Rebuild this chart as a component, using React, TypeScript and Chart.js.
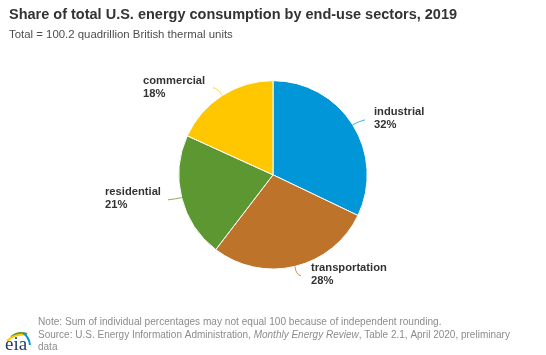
import React, { useEffect, useRef } from "react";
import { Chart, registerables } from "chart.js";

Chart.register(...registerables);

const titleText = "Share of total U.S. energy consumption by end-use sectors, 2019";
const subtitleText = "Total = 100.2 quadrillion British thermal units";
const categories = ["industrial", "transportation", "residential", "commercial"];
const shares = [32.1, 28.3, 21.4, 18.2];
const shareLabels = ["32%", "28%", "21%", "18%"];
const colors = ["#0096D7", "#BD732A", "#5D9732", "#FFC700"];
const noteLine = "Note: Sum of individual percentages may not equal 100 because of independent rounding.";
const sourceA = "Source: U.S. Energy Information Administration, ";
const sourceB = "Monthly Energy Review";
const sourceC = ", Table 2.1, April 2020, preliminary";
const sourceD = "data";

// label anchor relative to the pie centre, leader end relative to the pie centre
const labelOffsets = [[101, -60], [38, 96], [-168, 20], [-130, -91]];
const leaderEnds = [[92, -55], [28, 101], [-105, 25], [-60, -87]];
const leaderBend = [[85, -53], [23, 100], [-97, 24], [-55, -87]];

const FONT = '"Liberation Sans", Arial, sans-serif';

const annotations = {
  id: "annotations",
  afterDraw(chart: any) {
    const ctx = chart.ctx;
    const arcs = chart.getDatasetMeta(0).data;
    ctx.save();
    ctx.textBaseline = "alphabetic";
    arcs.forEach((arc: any, i: number) => {
      const mid = (arc.startAngle + arc.endAngle) / 2;
      const cx = arc.x, cy = arc.y, r = arc.outerRadius;
      ctx.strokeStyle = colors[i];
      ctx.globalAlpha = 0.75;
      ctx.lineWidth = 1;
      ctx.beginPath();
      ctx.moveTo(cx + Math.cos(mid) * r, cy + Math.sin(mid) * r);
      ctx.quadraticCurveTo(cx + leaderBend[i][0], cy + leaderBend[i][1], cx + leaderEnds[i][0], cy + leaderEnds[i][1]);
      ctx.stroke();
      ctx.globalAlpha = 1;
      ctx.fillStyle = "#333333";
      ctx.font = `bold 11.2px ${FONT}`;
      ctx.textAlign = "left";
      const lx = cx + labelOffsets[i][0], ly = cy + labelOffsets[i][1];
      ctx.fillText(categories[i], lx, ly);
      ctx.fillText(shareLabels[i], lx, ly + 13.5);
    });

    ctx.fillStyle = "#8C8C8C";
    ctx.font = `10.1px ${FONT}`;
    ctx.fillText(noteLine, 38, 325);
    let x = 38;
    ctx.font = `10px ${FONT}`;
    ctx.fillText(sourceA, x, 338);
    x += ctx.measureText(sourceA).width;
    ctx.font = `italic 10px ${FONT}`;
    ctx.fillText(sourceB, x, 338);
    x += ctx.measureText(sourceB).width;
    ctx.font = `10px ${FONT}`;
    ctx.fillText(sourceC, x, 338);
    ctx.fillText(sourceD, 38, 350);

    // eia logo
    ctx.lineWidth = 2;
    ctx.strokeStyle = "#5D9732";
    ctx.beginPath();
    ctx.moveTo(11, 337);
    ctx.quadraticCurveTo(18, 331, 27, 334);
    ctx.stroke();
    ctx.strokeStyle = "#FFC700";
    ctx.beginPath();
    ctx.moveTo(7, 341);
    ctx.quadraticCurveTo(14, 334, 24, 334.5);
    ctx.stroke();
    ctx.strokeStyle = "#0096D7";
    ctx.beginPath();
    ctx.moveTo(23, 333);
    ctx.quadraticCurveTo(29, 337, 30, 345);
    ctx.stroke();
    ctx.fillStyle = "#1F3A5F";
    ctx.font = '19px "Liberation Serif", serif';
    ctx.fillText("eia", 5, 350);
    ctx.restore();
  },
};

export default function App() {
  const ref = useRef<HTMLCanvasElement>(null);
  useEffect(() => {
    document.body.style.margin = "0";
    document.body.style.background = "#ffffff";
    const chart = new Chart(ref.current!, {
      type: "pie",
      data: {
        labels: categories,
        datasets: [{ data: shares, backgroundColor: colors, borderColor: "#ffffff", borderWidth: 1 }],
      },
      options: {
        animation: false,
        responsive: false,
        layout: { padding: { left: 9, right: 9, top: 6, bottom: 85.5 } },
        plugins: {
          legend: { display: false },
          tooltip: { enabled: false },
          title: {
            display: true,
            text: titleText,
            align: "start",
            color: "#333333",
            font: { family: FONT, size: 14.5, weight: "bold" },
            padding: { top: 0, bottom: 4.6 },
          },
          subtitle: {
            display: true,
            text: subtitleText,
            align: "start",
            color: "#4D4D4D",
            font: { family: FONT, size: 11.4 },
            padding: { top: 0, bottom: 38.5 },
          },
        },
      },
      plugins: [annotations],
    });
    return () => chart.destroy();
  }, []);
  return <canvas ref={ref} width={546} height={355} style={{ display: "block" }} />;
}
